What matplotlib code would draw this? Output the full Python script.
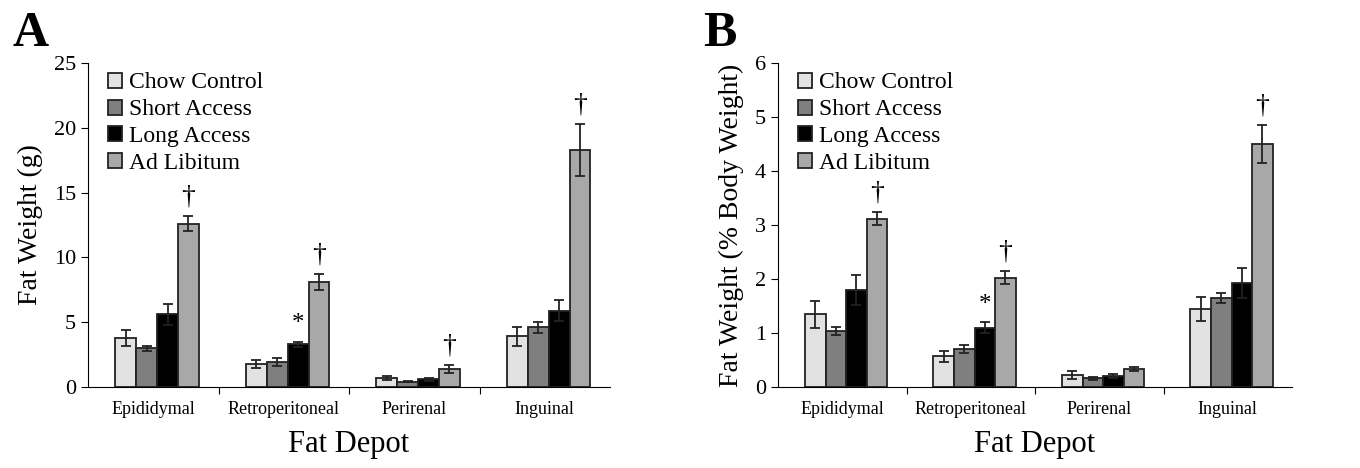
import numpy as np
import matplotlib.pyplot as plt

plt.rcParams['font.family'] = ['Liberation Serif', 'DejaVu Serif']

depots = ["Epididymal", "Retroperitoneal", "Perirenal", "Inguinal"]
groups = ["Chow Control", "Short Access", "Long Access", "Ad Libitum"]
colors = ["#e2e2e2", "#7f7f7f", "#000000", "#a8a8a8"]

# panel A: fat weight (g)
grams = [
    [3.8, 1.8, 0.7, 3.9],
    [3.0, 1.9, 0.4, 4.6],
    [5.6, 3.3, 0.6, 5.9],
    [12.6, 8.1, 1.4, 18.3],
]
grams_err = [
    [0.6, 0.3, 0.15, 0.7],
    [0.2, 0.3, 0.05, 0.4],
    [0.8, 0.2, 0.1, 0.8],
    [0.6, 0.6, 0.3, 2.0],
]

# panel B: fat weight (% body weight)
pct = [
    [1.35, 0.57, 0.22, 1.45],
    [1.04, 0.70, 0.16, 1.65],
    [1.80, 1.10, 0.20, 1.92],
    [3.12, 2.02, 0.33, 4.50],
]
pct_err = [
    [0.25, 0.10, 0.07, 0.22],
    [0.08, 0.07, 0.03, 0.10],
    [0.28, 0.10, 0.04, 0.28],
    [0.12, 0.12, 0.04, 0.36],
]

# significance marks: (group index, depot index, symbol)
marks_a = [(3, 0, "†"), (3, 1, "†"), (3, 2, "†"), (3, 3, "†"), (2, 1, "*")]
marks_b = [(3, 0, "†"), (3, 1, "†"), (3, 3, "†"), (2, 1, "*")]


def draw_panel(ax, vals, errs, marks, ymax, ystep, ylabel, letter, off):
    x = np.arange(len(depots)) + 0.5
    w = 0.16
    for i, g in enumerate(groups):
        pos = x + (i - 1.5) * w + 0.03
        ax.bar(pos, vals[i], w, color=colors[i], edgecolor="#222222",
               linewidth=1.3, label=g, zorder=2)
        ax.errorbar(pos, vals[i], yerr=errs[i], fmt="none", ecolor="#222222",
                    elinewidth=1.3, capsize=3.5, capthick=1.3, zorder=3)
    for gi, di, sym in marks:
        xp = x[di] + (gi - 1.5) * w + 0.03
        yp = vals[gi][di] + errs[gi][di] + ymax * 0.02
        ax.text(xp, yp, sym, ha="center", va="bottom",
                fontsize=20 if sym == "†" else 18)

    ax.set_xlim(0, 4)
    ax.set_ylim(0, ymax)
    ax.set_yticks(np.arange(0, ymax + 0.01, ystep))
    ax.set_xticks([1, 2, 3])
    ax.set_xticklabels([])
    ax.set_xticks(x, minor=True)
    ax.set_xticklabels(depots, minor=True, fontsize=13)
    ax.tick_params(axis="x", which="minor", length=0, pad=10)
    ax.tick_params(axis="x", which="major", direction="out", length=5)
    ax.tick_params(axis="y", direction="out", length=5, labelsize=16)
    for s in ["top", "right"]:
        ax.spines[s].set_visible(False)
    ax.set_xlabel("Fat Depot", fontsize=22, labelpad=9)
    ax.set_ylabel(ylabel, fontsize=20, labelpad=off)
    ax.legend(loc="upper left", bbox_to_anchor=(0.02, 1.0), frameon=False,
              fontsize=17, handlelength=0.6, handleheight=0.6,
              handletextpad=0.3, labelspacing=0.25, borderaxespad=0)
    ax.text(-0.145, 1.02, letter, transform=ax.transAxes, fontsize=36,
            fontweight="bold", va="bottom", ha="left")


fig = plt.figure(figsize=(13.6, 4.68), dpi=100)
ax1 = fig.add_axes([88 / 1360, 81 / 468, 522 / 1360, 324 / 468])
ax2 = fig.add_axes([778 / 1360, 81 / 468, 514 / 1360, 324 / 468])

draw_panel(ax1, grams, grams_err, marks_a, 25, 5, "Fat Weight (g)", "A", 8)
draw_panel(ax2, pct, pct_err, marks_b, 6, 1, "Fat Weight (% Body Weight)", "B", 8)

fig.savefig("out.png", dpi=100)
